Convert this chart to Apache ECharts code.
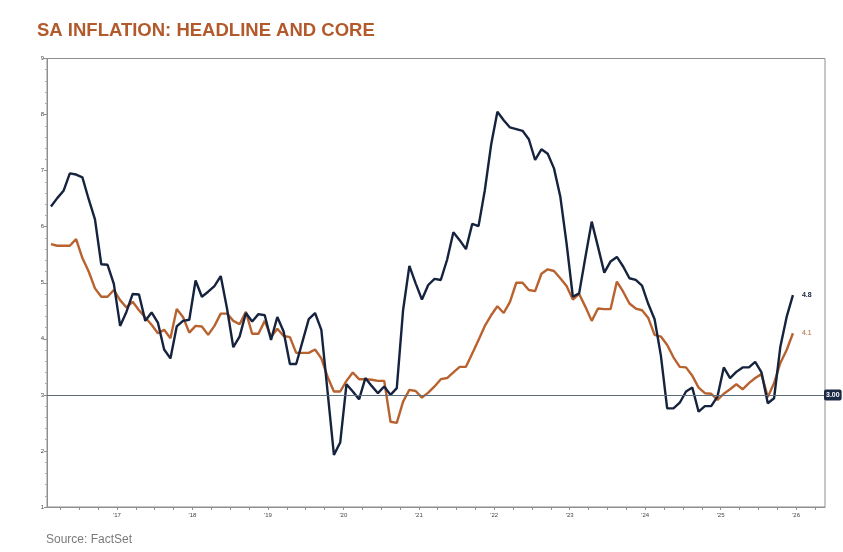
<!DOCTYPE html>
<html>
<head>
<meta charset="utf-8">
<script src="https://cdn.jsdelivr.net/npm/echarts@6/dist/echarts.min.js"></script>
<style>
html,body{margin:0;padding:0;background:#fff;}
#c{width:843px;height:552px;}
</style>
</head>
<body>
<div id="c"></div>
<script>
// Monthly observations, first month Feb 2016 (x axis in months since Jan 2016)
const firstMonthIndex = 1; // Feb 2016
const headline = [6.36,6.51,6.64,6.95,6.93,6.88,6.49,6.13,5.33,5.32,4.98,4.23,4.48,4.80,4.79,4.32,4.47,4.29,3.81,3.65,
4.22,4.32,4.34,5.04,4.75,4.84,4.94,5.12,4.54,3.85,4.04,4.46,4.31,4.44,4.42,3.98,4.39,4.13,3.55,3.55,
3.95,4.35,4.46,4.16,3.05,1.93,2.15,3.19,3.06,2.92,3.30,3.16,3.03,3.15,3.00,3.12,4.51,5.30,4.99,4.70,
4.96,5.07,5.05,5.41,5.90,5.76,5.60,6.05,6.01,6.65,7.46,8.05,7.90,7.77,7.74,7.71,7.56,7.19,7.38,7.30,
7.04,6.54,5.70,4.75,4.81,5.46,6.09,5.64,5.18,5.38,5.46,5.29,5.08,5.05,4.95,4.62,4.35,3.70,2.76,2.76,
2.86,3.06,3.13,2.70,2.80,2.80,2.97,3.49,3.30,3.41,3.49,3.49,3.59,3.40,2.85,2.94,3.86,4.39,4.78];
const core = [5.69,5.66,5.66,5.66,5.78,5.44,5.20,4.90,4.75,4.75,4.87,4.69,4.56,4.66,4.51,4.38,4.25,4.10,4.16,4.01,
4.53,4.39,4.11,4.23,4.22,4.07,4.23,4.45,4.45,4.32,4.26,4.48,4.09,4.09,4.32,4.03,4.18,4.05,4.03,3.75,
3.75,3.75,3.81,3.65,3.32,3.06,3.06,3.25,3.40,3.28,3.28,3.27,3.25,3.25,2.52,2.50,2.88,3.09,3.07,2.95,
3.04,3.15,3.28,3.30,3.40,3.50,3.50,3.74,3.98,4.23,4.42,4.58,4.46,4.66,5.00,5.00,4.87,4.85,5.16,5.24,
5.21,5.08,4.94,4.70,4.80,4.57,4.32,4.54,4.53,4.53,5.02,4.84,4.63,4.54,4.51,4.37,4.07,4.04,3.89,3.67,
3.50,3.49,3.34,3.13,3.03,3.02,2.91,3.02,3.10,3.19,3.10,3.21,3.30,3.37,2.96,3.21,3.57,3.80,4.10];
const yearLabels = ["'17","'18","'19","'20","'21","'22","'23","'24","'25","'26"];
const targetValue = 3;
const targetLabel = '3.00';
const titleText = 'SA INFLATION: HEADLINE AND CORE';
const sourceText = 'Source: FactSet';

const NAVY = '#15233e';
const ORANGE = '#b8622f';

function toPairs(arr){ return arr.map((v,i)=>[firstMonthIndex + i + 0.5, v]); }
const labelPos = yearLabels.map((_,k)=>12*(k+1));
const tickPos = []; for (let m=3; m<=123; m+=3) tickPos.push(m);

const chart = echarts.init(document.getElementById('c'), null, {renderer:'canvas'});
chart.setOption({
  animation:false,
  backgroundColor:'#fff',
  title:{
    text:titleText, left:37, top:21, padding:0,
    textStyle:{fontFamily:'Liberation Sans, Arial, sans-serif', fontSize:18.5, fontWeight:'bold', color:'#b35a2c'}
  },
  graphic:[{
    type:'text', left:46, top:534,
    style:{text:sourceText, fontFamily:'Liberation Sans, Arial, sans-serif', fontSize:12, fill:'#7a7a7a'}
  }],
  grid:{left:47, right:18, top:58.5, bottom:45, show:true, borderColor:'#8f8f8f', borderWidth:1, outerBoundsMode:'none'},
  xAxis:{
    type:'value', min:0.87, max:124.6,
    splitLine:{show:false},
    axisLine:{show:true, lineStyle:{color:'#8f8f8f', width:1}},
    axisTick:{show:true, customValues:tickPos, length:3, lineStyle:{color:'#8f8f8f'}},
    axisLabel:{customValues:labelPos, fontSize:6, color:'#444', margin:5,
      fontFamily:'Liberation Sans, Arial, sans-serif',
      formatter:(v)=>{ const k=Math.round(v/12)-1; return yearLabels[k]||''; }}
  },
  yAxis:{
    type:'value', min:1, max:9, interval:1,
    splitLine:{show:false},
    axisLine:{show:true, lineStyle:{color:'#8f8f8f', width:1}},
    axisTick:{show:true, length:3, lineStyle:{color:'#8f8f8f'}},
    minorTick:{show:true, splitNumber:5, length:2, lineStyle:{color:'#b0b0b0'}},
    axisLabel:{fontSize:6, color:'#444', margin:3, fontFamily:'Liberation Sans, Arial, sans-serif'}
  },
  series:[
    {
      name:'Headline', type:'line', data:toPairs(headline), showSymbol:false, symbol:'none',
      lineStyle:{color:NAVY, width:2.4}, itemStyle:{color:NAVY}, z:3,
      endLabel:{show:true, formatter:(p)=>p.value[1].toFixed(1), color:NAVY, fontSize:7, fontWeight:'bold', distance:9,
        fontFamily:'Liberation Sans, Arial, sans-serif'},
      markLine:{
        silent:true, symbol:'none', animation:false,
        lineStyle:{color:'#5d6d7e', width:1, type:'solid'},
        label:{show:true, position:'end', formatter:targetLabel, color:'#fff', backgroundColor:'#1b2a45',
          fontSize:7, fontWeight:'bold', padding:[2,2,2,2], borderRadius:2, distance:-1,
          fontFamily:'Liberation Sans, Arial, sans-serif'},
        data:[{yAxis:targetValue}]
      }
    },
    {
      name:'Core', type:'line', data:toPairs(core), showSymbol:false, symbol:'none',
      lineStyle:{color:ORANGE, width:2.4}, itemStyle:{color:ORANGE}, z:2,
      endLabel:{show:true, formatter:(p)=>p.value[1].toFixed(1), color:ORANGE, fontSize:7, distance:9,
        fontFamily:'Liberation Sans, Arial, sans-serif'}
    }
  ]
});
</script>
</body>
</html>
